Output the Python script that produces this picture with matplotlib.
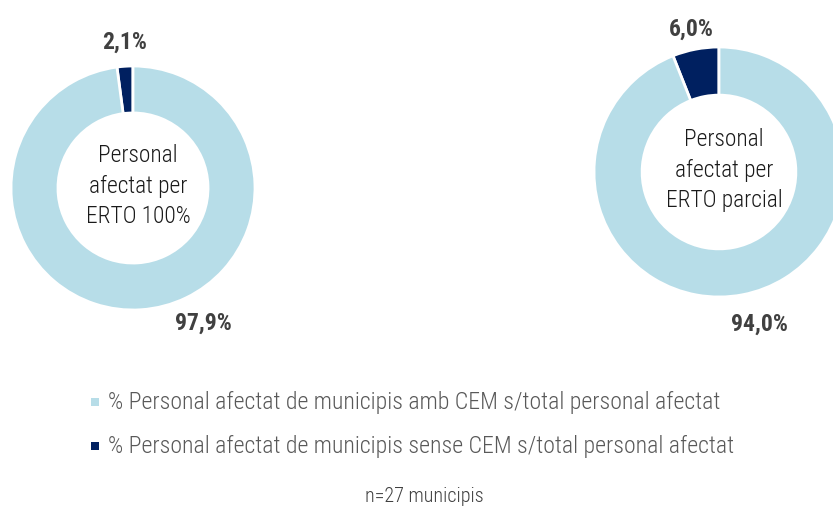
import matplotlib.pyplot as plt
from matplotlib import font_manager

names = {f.name for f in font_manager.fontManager.ttflist}
FONT = 'Roboto'
for cand in ['Roboto Condensed', 'Liberation Sans Narrow', 'Open Sans Condensed']:
    if cand in names:
        FONT = cand
        break
narrow = FONT != 'Roboto'
plt.rcParams['font.family'] = [FONT, 'DejaVu Sans']

# data
titles = ['Personal\nafectat per\nERTO 100%', 'Personal\nafectat per\nERTO parcial']
sense_cem = [2.1, 6.0]
amb_cem = [97.9, 94.0]
legend_labels = ['% Personal afectat de municipis amb CEM s/total personal afectat',
                 '% Personal afectat de municipis sense CEM s/total personal afectat']
note = 'n=27 municipis'

light = '#B7DDE8'
dark = '#002060'
grey = '#404040'

W, H = 833, 509
fig = plt.figure(figsize=(W / 100, H / 100), dpi=100)
ax = fig.add_axes([0, 0, 1, 1])

centers = [(133, H - 188), (719, H - 172)]
radii = [122, 125]
small_pos = [(125, H - 42), (691, H - 29)]
big_pos = [(203, H - 323), (759, H - 324)]

for i in range(2):
    ax.pie([sense_cem[i], amb_cem[i]], colors=[dark, light], startangle=90,
           counterclock=True, center=centers[i], radius=radii[i],
           wedgeprops=dict(width=radii[i] * 0.385, edgecolor='white', linewidth=2))
    ax.text(centers[i][0] + 5, centers[i][1] + 2, titles[i], ha='center', va='center',
            fontsize=16.8 if narrow else 15, color='#1a1a1a', linespacing=1.42,
            fontweight='light')
    ax.text(*small_pos[i], f'{sense_cem[i]:.1f}%'.replace('.', ','), ha='center', va='center',
            fontsize=17, fontweight='bold', color=grey)
    ax.text(*big_pos[i], f'{amb_cem[i]:.1f}%'.replace('.', ','), ha='center', va='center',
            fontsize=17, fontweight='bold', color=grey)

for j, (lab, c) in enumerate(zip(legend_labels, [light, dark])):
    y = H - 402 - j * 44
    ax.scatter([95], [y], marker='s', s=34, color=c, linewidths=0)
    ax.text(108, y, lab, ha='left', va='center', fontsize=17.2 if narrow else 14.9,
            color='#595959', fontweight='light')

ax.text(424, H - 496, note, ha='center', va='center', fontsize=14.5 if narrow else 12,
        color='#404040', fontweight='light')

ax.set_xlim(0, W)
ax.set_ylim(0, H)
ax.set_aspect('equal')
ax.axis('off')

fig.savefig('out.png', dpi=100, facecolor='white')
